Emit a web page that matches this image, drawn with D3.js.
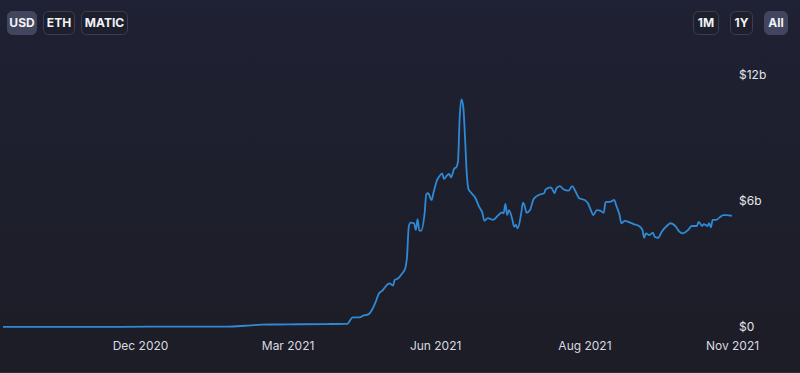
<!DOCTYPE html>
<html>
<head>
<meta charset="utf-8">
<script src="https://cdn.jsdelivr.net/npm/d3@7"></script>
<style>
  html, body { margin: 0; padding: 0; background: #1d1f2c; }
  svg { display: block; font-family: Inter, "Noto Sans", sans-serif; }
</style>
</head>
<body>
<div id="chart"></div>
<script>
'use strict';

// TVL in billions USD
const dates = [
  '2020-09-14', '2020-10-16', '2020-11-20', '2020-12-24', '2021-01-20', '2021-01-30',
  '2021-02-08', '2021-02-16', '2021-03-02', '2021-03-16', '2021-03-29', '2021-03-31',
  '2021-04-01', '2021-04-05', '2021-04-07', '2021-04-10', '2021-04-12', '2021-04-14',
  '2021-04-16', '2021-04-18', '2021-04-20', '2021-04-22', '2021-04-24', '2021-04-25',
  '2021-04-27', '2021-04-29', '2021-05-01', '2021-05-02', '2021-05-03', '2021-05-04',
  '2021-05-06', '2021-05-07', '2021-05-08', '2021-05-09', '2021-05-10', '2021-05-12',
  '2021-05-13', '2021-05-14', '2021-05-16', '2021-05-17', '2021-05-19', '2021-05-21',
  '2021-05-22', '2021-05-23', '2021-05-25', '2021-05-26', '2021-05-27', '2021-05-29',
  '2021-05-30', '2021-05-31', '2021-06-01', '2021-06-02', '2021-06-03', '2021-06-04',
  '2021-06-05', '2021-06-06', '2021-06-07', '2021-06-10', '2021-06-12', '2021-06-14',
  '2021-06-15', '2021-06-17', '2021-06-20', '2021-06-23', '2021-06-25', '2021-06-26',
  '2021-06-27', '2021-06-28', '2021-06-29', '2021-07-01', '2021-07-02', '2021-07-03',
  '2021-07-04', '2021-07-06', '2021-07-07', '2021-07-08', '2021-07-09', '2021-07-11',
  '2021-07-13', '2021-07-16', '2021-07-19', '2021-07-20', '2021-07-23', '2021-07-25',
  '2021-07-26', '2021-07-28', '2021-07-30', '2021-08-02', '2021-08-04', '2021-08-06',
  '2021-08-08', '2021-08-11', '2021-08-13', '2021-08-15', '2021-08-16', '2021-08-18',
  '2021-08-20', '2021-08-22', '2021-08-23', '2021-08-26', '2021-08-28', '2021-08-29',
  '2021-08-31', '2021-09-01', '2021-09-03', '2021-09-05', '2021-09-08', '2021-09-11',
  '2021-09-13', '2021-09-14', '2021-09-15', '2021-09-17', '2021-09-19', '2021-09-20',
  '2021-09-22', '2021-09-24', '2021-09-27', '2021-09-29', '2021-10-02', '2021-10-04',
  '2021-10-06', '2021-10-09', '2021-10-11', '2021-10-14', '2021-10-15', '2021-10-17',
  '2021-10-18', '2021-10-20', '2021-10-21', '2021-10-22', '2021-10-23', '2021-10-25',
  '2021-10-27', '2021-10-29', '2021-10-31', '2021-11-03'
];
const tvl = [
  0.01, 0.01, 0.01, 0.02, 0.02, 0.06,
  0.11, 0.12, 0.13, 0.14, 0.15, 0.37,
  0.46, 0.46, 0.54, 0.60, 0.81, 1.16,
  1.60, 1.73, 1.95, 2.08, 1.97, 2.24,
  2.32, 2.52, 2.80, 3.35, 4.78, 4.97,
  4.94, 4.62, 5.13, 4.59, 4.59, 5.41,
  6.33, 6.37, 6.05, 6.37, 6.97, 7.24,
  7.32, 7.05, 7.24, 7.29, 7.13, 7.56,
  7.60, 7.87, 10.01, 10.84, 10.49, 9.06,
  7.32, 6.56, 6.44, 6.13, 5.73, 5.41,
  5.06, 5.18, 5.10, 5.33, 5.46, 5.41,
  5.86, 5.33, 5.57, 5.10, 4.78, 4.86,
  4.70, 5.41, 5.92, 5.76, 5.44, 5.57,
  6.08, 6.29, 6.37, 6.56, 6.65, 6.37,
  6.60, 6.71, 6.56, 6.49, 6.71, 6.44,
  6.13, 6.05, 5.89, 5.49, 5.33, 5.57,
  5.54, 5.44, 5.95, 5.97, 6.05, 5.81,
  5.33, 4.94, 5.05, 5.01, 4.90, 4.81,
  4.62, 4.25, 4.46, 4.38, 4.49, 4.30,
  4.25, 4.54, 4.82, 4.94, 4.78, 4.54,
  4.46, 4.62, 4.81, 4.81, 5.01, 4.81,
  4.90, 4.81, 4.94, 4.75, 5.10, 5.10,
  5.22, 5.33, 5.33, 5.29
];

const xTickDates = ['2020-12-01', '2021-02-23', '2021-05-18', '2021-08-11', '2021-11-03'];
const xTickLabels = ['Dec 2020', 'Mar 2021', 'Jun 2021', 'Aug 2021', 'Nov 2021'];
const yTicks = [0, 6, 12];
const yTickLabels = ['$0', '$6b', '$12b'];

const leftButtons = ['USD', 'ETH', 'MATIC'];
const rightButtons = ['1M', '1Y', 'All'];

const W = 800, H = 373;
const parse = d3.utcParse('%Y-%m-%d');
const data = dates.map((d, i) => ({ date: parse(d), value: tvl[i] }));

const svg = d3.select('#chart').append('svg').attr('width', W).attr('height', H);

const defs = svg.append('defs');
const bg = defs.append('linearGradient').attr('id', 'bg').attr('x1', 0).attr('y1', 0).attr('x2', 0).attr('y2', 1);
bg.append('stop').attr('offset', '0%').attr('stop-color', '#1f2134');
bg.append('stop').attr('offset', '100%').attr('stop-color', '#1c1d25');
svg.append('rect').attr('width', W).attr('height', H).attr('fill', 'url(#bg)');
svg.append('rect').attr('x', 0).attr('y', H - 1).attr('width', W).attr('height', 1).attr('fill', '#2e3039');

const x = d3.scaleUtc().domain([parse(dates[0]), parse(dates[dates.length - 1])]).range([3, 732]);
const y = d3.scaleLinear().domain([0, 12]).range([327, 75]);

// line
svg.append('path')
  .datum(data)
  .attr('fill', 'none')
  .attr('stroke', '#2f8ad6')
  .attr('stroke-width', 1.8)
  .attr('stroke-linejoin', 'round')
  .attr('d', d3.line().x(d => x(d.date)).y(d => y(d.value)).curve(d3.curveMonotoneX));

// y axis (right)
const yAxis = d3.axisRight(y).tickValues(yTicks).tickSize(0).tickPadding(0)
  .tickFormat((d, i) => yTickLabels[i]);
const gy = svg.append('g').attr('transform', 'translate(739,0)').call(yAxis);
gy.select('.domain').remove();
gy.selectAll('text').attr('fill', '#e4e5ea').attr('font-size', 12).attr('font-family', 'Inter, sans-serif');

// x axis
const xAxis = d3.axisBottom(x).tickValues(xTickDates.map(parse)).tickSize(0).tickPadding(0)
  .tickFormat((d, i) => xTickLabels[i]);
const gx = svg.append('g').attr('transform', 'translate(0,341)').call(xAxis);
gx.select('.domain').remove();
gx.selectAll('text').attr('fill', '#d9dae0').attr('font-size', 12).attr('font-family', 'Inter, sans-serif');

// toggle buttons
function buttons(labels, xs, widths, active) {
  const g = svg.append('g');
  labels.forEach((lab, i) => {
    const on = lab === active;
    g.append('rect')
      .attr('x', xs[i] + 0.5).attr('y', 11.5)
      .attr('width', widths[i] - 1).attr('height', 23)
      .attr('rx', 5)
      .attr('fill', on ? '#41465e' : '#1d1f2d')
      .attr('stroke', on ? '#41465e' : '#3b3e50');
    g.append('text')
      .attr('x', xs[i] + widths[i] / 2).attr('y', 23)
      .attr('dy', '0.35em')
      .attr('text-anchor', 'middle')
      .attr('fill', '#f1f2f6')
      .attr('font-size', 12)
      .attr('font-weight', 700)
      .text(lab);
  });
}
buttons(leftButtons, [7, 43, 81], [30, 32, 47], 'USD');
buttons(rightButtons, [693, 730, 764], [26, 23, 24], 'All');
</script>
</body>
</html>
